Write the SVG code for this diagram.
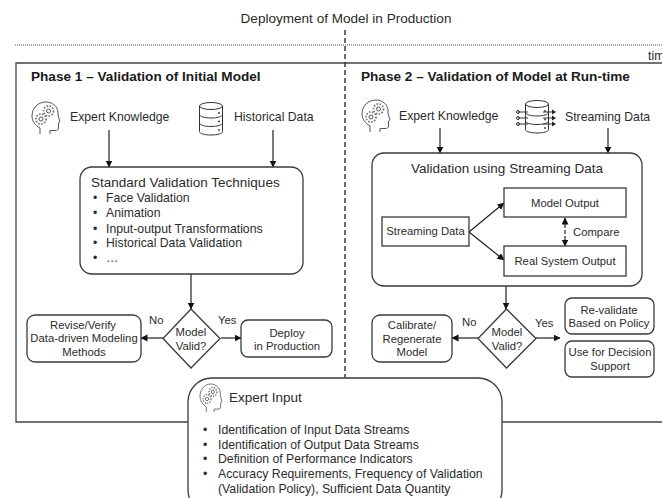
<svg xmlns="http://www.w3.org/2000/svg" xmlns:xlink="http://www.w3.org/1999/xlink" width="662" height="498" viewBox="0 0 662 498">
<style>
text{font-family:"Liberation Sans",Arial,sans-serif;font-size:12.250px;fill:#2b2b2b}
.t{font-size:11.300px}
.l{font-size:13.500px}
.h{font-weight:bold;font-size:13.600px;fill:#1a1a1a}
.m{text-anchor:middle}
.b{fill:#fff;stroke:#3a3a3a;stroke-width:1.3}
.c{fill:none;stroke:#222;stroke-width:1.2}
.i{fill:none;stroke:#555;stroke-width:1}
.d{fill:none;stroke:#333;stroke-width:1}
</style>
<defs>
<marker id="a" markerWidth="8" markerHeight="8" refX="6.5" refY="3.5" orient="auto-start-reverse" markerUnits="userSpaceOnUse"><path d="M0 0L7 3.5L0 7z" fill="#111"/></marker>
<g id="head">
<path class="i" d="M8 32V26C3 23 0 19 0 14C0 6 6 0 14 0C21 0 26 5 26 11L26 13L28 20L26.500 21V26C26.500 28 25 28.500 23 28.500H18V32"/>
<circle class="i" cx="16.500" cy="9" r="2"/>
<circle class="i" cx="9" cy="17" r="2"/>
<circle cx="16.500" cy="9" r="5" fill="none" stroke="#777" stroke-width="1.800" stroke-dasharray="1.500 1.500"/>
<circle cx="9" cy="17" r="5" fill="none" stroke="#777" stroke-width="1.800" stroke-dasharray="1.500 1.500"/>
</g>
<g id="db">
<ellipse class="d" cx="12" cy="4" rx="11.500" ry="3.500"/>
<path class="d" d="M0.500 4V29.500C0.500 31.500 5.500 33 12 33S23.500 31.500 23.500 29.500V4M0.500 12.500C0.500 14.500 5.500 16 12 16S23.500 14.500 23.500 12.500M0.500 21C0.500 23 5.500 24.500 12 24.500S23.500 23 23.500 21"/>
<circle cx="20" cy="11" r="0.900" fill="#333"/><circle cx="20" cy="19.500" r="0.900" fill="#333"/><circle cx="20" cy="28" r="0.900" fill="#333"/>
</g>
</defs>

<g id="timeline">
<text id="title" x="346" y="23" class="m" style="font-size:13.550px">Deployment of Model in Production</text>
<path d="M15 45H662" fill="none" stroke="#555" stroke-width="1" stroke-dasharray="1 1"/>
<text x="648" y="60">time</text>
</g>
<g id="frame">
<path d="M662 63H16V422H662" fill="none" stroke="#444" stroke-width="1.300"/>
</g>
<g id="connectors">
<path d="M345 30V378" fill="none" stroke="#222" stroke-width="1.300" stroke-dasharray="5 3"/>
<path class="c" marker-end="url(#a)" d="M109 130V167"/>
<path class="c" marker-end="url(#a)" d="M273 130V167"/>
<path class="c" marker-end="url(#a)" d="M191 274V309"/>
<path class="c" marker-end="url(#a)" d="M163 338H141"/>
<path class="c" marker-end="url(#a)" d="M221 338H241"/>
<path class="c" marker-end="url(#a)" d="M440 128V153"/>
<path class="c" marker-end="url(#a)" d="M608 128V153"/>
<path class="c" marker-end="url(#a)" d="M506 286V309"/>
<path class="c" marker-end="url(#a)" d="M478 338H452"/>
<path class="c" marker-end="url(#a)" d="M536 338H560"/>
</g>

<g id="phase1"><text class="h" x="31" y="81">Phase 1 – Validation of Initial Model</text></g>
<g id="expert1"><use href="#head" xlink:href="#head" x="32" y="102"/><text x="70" y="121">Expert Knowledge</text></g>
<g id="historical"><use href="#db" xlink:href="#db" x="199" y="102"/><text x="234" y="121">Historical Data</text></g>
<g id="standard">
<rect class="b" x="80" y="167" width="223" height="107" rx="12"/>
<text x="91" y="187" class="l">Standard Validation Techniques</text>
<text x="93" y="202">•</text><text x="106" y="202">Face Validation</text>
<text x="93" y="217">•</text><text x="106" y="217">Animation</text>
<text x="93" y="233">•</text><text x="106" y="233">Input-output Transformations</text>
<text x="93" y="247">•</text><text x="106" y="247">Historical Data Validation</text>
<text x="93" y="262">•</text><text x="106" y="262">…</text>
</g>
<g id="valid1">
<path class="b" d="M191 309L220 338.500L191 368L163 338.500Z"/>
<text x="191" y="336" class="m t">Model</text><text x="191" y="350" class="m t">Valid?</text>
</g>
<g id="revise">
<rect class="b" x="27" y="315" width="114" height="47" rx="8"/>
<text x="83" y="329" class="m t">Revise/Verify</text><text x="84" y="342" class="m t">Data-driven Modeling</text><text x="84" y="356" class="m t">Methods</text>
</g>
<g id="deploy">
<rect class="b" x="241" y="320" width="91" height="37" rx="7"/>
<text x="287" y="337" class="m t">Deploy</text><text x="287" y="350" class="m t">in Production</text>
</g>
<g id="no1"><text x="149" y="324" class="t">No</text></g>
<g id="yes1"><text x="218" y="324" class="t">Yes</text></g>

<g id="phase2"><text class="h" x="361" y="81">Phase 2 – Validation of Model at Run-time</text></g>
<g id="expert2"><use href="#head" xlink:href="#head" x="362" y="100"/><text x="399" y="120">Expert Knowledge</text></g>
<g id="streaming">
<use href="#db" xlink:href="#db" x="525" y="100"/>
<g fill="none" stroke="#333" stroke-width="1">
<path d="M518 112H528M518 118H528M518 124H528M543 112H553M543 118H553M543 124H553"/>
<circle cx="518" cy="112" r="1.500"/><circle cx="518" cy="118" r="1.500"/><circle cx="518" cy="124" r="1.500"/>
</g>
<path d="M552 109.500L556 112L552 114.500zM552 115.500L556 118L552 120.500zM552 121.500L556 124L552 126.500z" fill="#222"/>
<text x="565" y="121">Streaming Data</text>
</g>
<g id="validation">
<rect class="b" x="372" y="153" width="270" height="133" rx="12"/>
<text x="507" y="173" class="m l">Validation using Streaming Data</text>
</g>
<g id="flow">
<path class="c" marker-end="url(#a)" d="M469 232L504 203"/>
<path class="c" marker-end="url(#a)" d="M469 232L504 260"/>
<path class="c" marker-start="url(#a)" marker-end="url(#a)" stroke-dasharray="4 2" d="M565 218V246"/>
</g>
<g id="sd"><rect class="b" x="382" y="217" width="87" height="29"/><text x="425.500" y="235" class="m t">Streaming Data</text></g>
<g id="mo"><rect class="b" x="504" y="188" width="122" height="29"/><text x="565" y="207" class="m t">Model Output</text></g>
<g id="rs"><rect class="b" x="504" y="246" width="122" height="30"/><text x="565" y="265" class="m t">Real System Output</text></g>
<g id="cmp"><text x="573" y="236" class="t">Compare</text></g>
<g id="valid2">
<path class="b" d="M506.500 309L536 338.500L506.500 368L478 338.500Z"/>
<text x="507" y="336" class="m t">Model</text><text x="507" y="350" class="m t">Valid?</text>
</g>
<g id="calibrate">
<rect class="b" x="372" y="315" width="80" height="47" rx="8"/>
<text x="412" y="329" class="m t">Calibrate/</text><text x="412" y="343" class="m t">Regenerate</text><text x="412" y="356" class="m t">Model</text>
</g>
<g id="revalidate">
<rect class="b" x="565" y="298" width="89" height="36" rx="7"/>
<text x="609" y="314" class="m t">Re-validate</text><text x="609" y="327" class="m t">Based on Policy</text>
</g>
<g id="decision">
<rect class="b" x="565" y="341" width="89" height="36" rx="7"/>
<text x="610" y="356" class="m t">Use for Decision</text><text x="610" y="370" class="m t">Support</text>
</g>
<g id="no2"><text x="462" y="326" class="t">No</text></g>
<g id="yes2"><text x="535" y="327" class="t">Yes</text></g>

<g id="expertinput">
<rect class="b" x="188" y="378" width="314" height="136" rx="24"/>
<use href="#head" xlink:href="#head" transform="translate(200 384) scale(.78 .88)"/>
<text x="229" y="402" class="l">Expert Input</text>
<text x="203" y="434">•</text><text x="218" y="434">Identification of Input Data Streams</text>
<text x="203" y="449">•</text><text x="218" y="449">Identification of Output Data Streams</text>
<text x="203" y="463">•</text><text x="218" y="463">Definition of Performance Indicators</text>
<text x="203" y="478">•</text><text x="218" y="478">Accuracy Requirements, Frequency of Validation</text>
<text x="218" y="493">(Validation Policy), Sufficient Data Quantity</text>
</g>
</svg>
